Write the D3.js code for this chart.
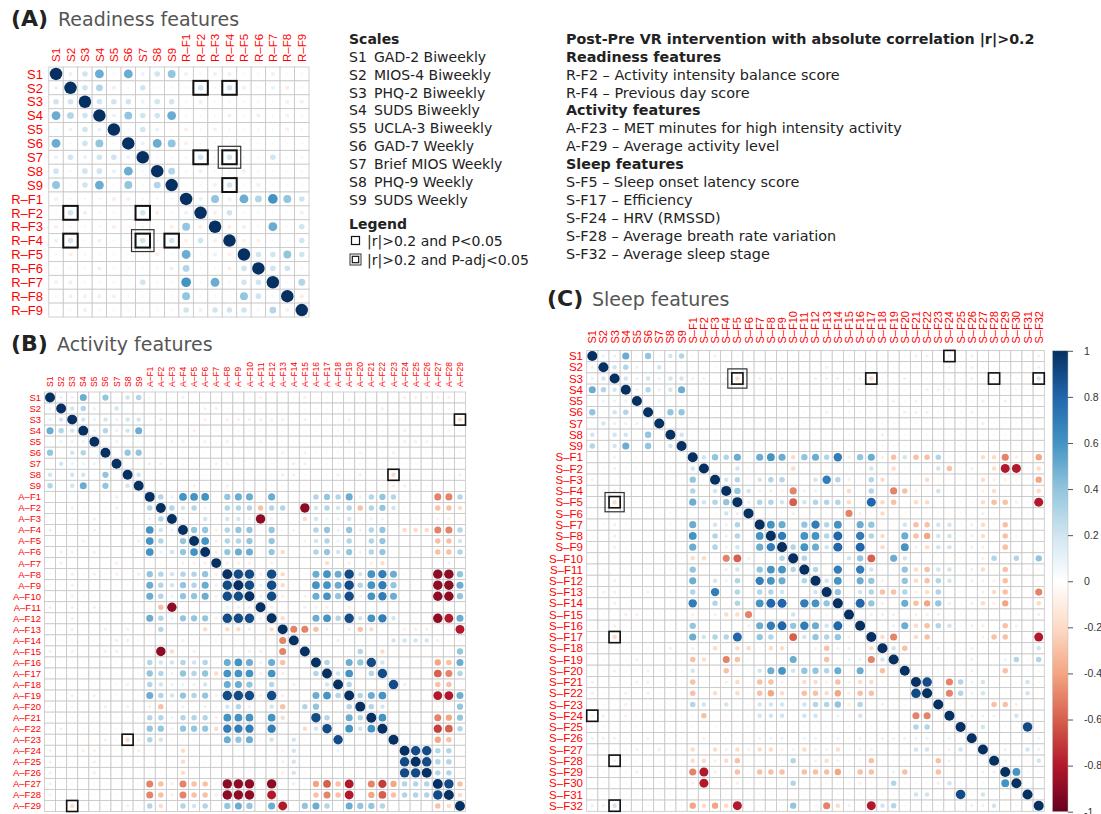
<!DOCTYPE html>
<html>
<head>
<meta charset="utf-8">
<script src="https://cdnjs.cloudflare.com/ajax/libs/d3/7.8.5/d3.min.js"></script>
<style>
  body { margin: 0; background: #fff; }
  svg { display: block; }
  .lbl { font-family: "Liberation Sans", Arial, sans-serif; fill: #ff0000; }
  .txt { font-family: "DejaVu Sans", Verdana, sans-serif; fill: #222; }
</style>
</head>
<body>
<svg id="chart" width="1101" height="814"></svg>
<script>
// corrplot RdBu palette, -1 .. 1
var palette = ["#67001F","#B2182B","#D6604D","#F4A582","#FDDBC7","#FFFFFF","#D1E5F0","#92C5DE","#4393C3","#2166AC","#053061"];
var paletteAt = [-1,-0.8,-0.6,-0.4,-0.2,0,0.2,0.4,0.6,0.8,1];
var barTicks = [1,0.8,0.6,0.4,0.2,0,-0.2,-0.4,-0.6,-0.8,-1];

var scaleLabels = ["S1","S2","S3","S4","S5","S6","S7","S8","S9"];
var readinessLabels = ["R–F1","R–F2","R–F3","R–F4","R–F5","R–F6","R–F7","R–F8","R–F9"];
var activityLabels = ["A–F1","A–F2","A–F3","A–F4","A–F5","A–F6","A–F7","A–F8","A–F9","A–F10",
  "A–F11","A–F12","A–F13","A–F14","A–F15","A–F16","A–F17","A–F18","A–F19","A–F20",
  "A–F21","A–F22","A–F23","A–F24","A–F25","A–F26","A–F27","A–F28","A–F29"];
var sleepLabels = ["S–F1","S–F2","S–F3","S–F4","S–F5","S–F6","S–F7","S–F8","S–F9","S–F10",
  "S–F11","S–F12","S–F13","S–F14","S–F15","S–F16","S–F17","S–F18","S–F19","S–F20",
  "S–F21","S–F22","S–F23","S–F24","S–F25","S–F26","S–F27","S–F28","S–F29","S–F30",
  "S–F31","S–F32"];

// lower triangles, one char per cell:
// "0" none, "." ~+0.05, "," ~-0.05, "1".."9" = +0.1..+0.9, "a".."i" = -0.1..-0.9
var lowerA = [
  "", "1", "22", "532", ".121", "5.24.", "121221", "2.2215.", "4.25,4.3",
  "a.,,aa..,",
  ".21...2a.1",
  "a.,.a,..a4a",
  "12.1..2.2a2a",
  ".a.....a.5.1a",
  "...1....13..a2",
  "a1....2..6.5.22",
  ",aaaa,...4...42.",
  "..a......2a222.3a"
];
var lowerB = [
  "", "1", "12", "532", ".111", "4.23.", ".2111.", "2.22.4.", "3.25.4.2",
  "..000.1..",
  "..1...a.03",
  "....a....13",
  "100.1....621",
  "00.a....a63.4",
  ".aa,a,,,,61246",
  ",a,,,,a,,,,,aaa",
  ",.a.a.a.a432334a",
  ",.a,.....532435a9",
  ",.a..,...531445a99",
  "a.a,a,.,," + ",ci,.,.111",
  "..a......" + "531444a999a",
  "..1..a,a," + ",3,,0b,bba,b",
  "......11." + ",,,a,,,,,," + ",,e",
  "a,a,,a1,," + ",ib,a,,,,a" + "1,e,",
  ",.,.,...." + "322323,565" + "a5c,,",
  "..,..,..," + "431434b666" + "a6a,,3",
  ",,,,,,,a," + "321112,554" + ",3,1,,2",
  ",.a.a...." + "532434a999" + "a9a,,563",
  ",.,.,a,a," + "1c,1,1,231" + ",2c,34,,3",
  ",,.,.,..," + "331333a666" + ",6b,,93,53",
  ".1,.,,,,," + "441444b777" + ",7,,b29,626",
  ".,,,,a,ba" + "32,,.,,545" + ",2,2,,,9,,,,",
  "a,,aa,,,a" + ",.,b..,..." + ",,a2,,,1,,,,,",
  "a,,,a,,,," + ",..b..,,,," + ",,a2,,,,,,,,,9",
  "a,,,a,,,," + ",..b..,,,," + ",,a2,,,,,,,,,99",
  "a,.,,,,,," + "ecaecc.iii" + ",i.1.dfch,egd333",
  "a,.,,,,,," + "ecaecc1iii" + ",h...cech,dfc3339",
  ",,b,,,,1," + "3b,323,454" + ".5h.453,5443,,,,cb"
];
var lowerC = [
  "", "1", "12", "532", ".111", "4.23.", ".2111.", "2.22.4.", "3.25.4.2",
  ",,a,,,,,,",
  ",,a,,,,,," + "2",
  "a,,,,,,,," + "4,",
  ",,a,,,,,," + "3,2",
  ",,b,,,,,," + "5234",
  ",,,,,,,,," + ".,,21",
  ",,a,,,,,," + "5,213,",
  ",,a,,,,,," + "6,313,6",
  ",,a,,,,,," + "5,3a2,57",
  ",,,,,,,,," + "bb,efa,,3",
  ",,,,,,,,," + "4,,12,4663",
  ",,a,,,,,," + "5,213,765,3",
  ",aa,,a,,," + "3,7,3,332,,2",
  ",,a,,,,,," + "7,3,3,688,764",
  ",,,aa,,,," + "a,abbe,,,2,,,,",
  ",,a,,,,,," + "4,,,,a57847528,",
  ",,b,,,,,," + "52338,43,f2434a,",
  ",,,,,,,a," + "a,b,bb,bb,,aca1,b",
  ",,.,1,,,," + "cb,ec,,,,5,,c,11e2",
  ",,a,,a,,," + "2,,c,,25624435,5,c,",
  "1,,,11,,," + "c.,ab,cca,bbacabb,,,",
  "1,,1,1,,," + "c,b,b,cdb,ccbdacc,,,9",
  ",,,a,,,,," + "32,2,,222,2334a3,a,,,,",
  "a1,a,,,,," + ",c,,,,222,22,1,2,,,,ee,",
  ",,,,,,,,," + ",,,,,,,,,,,,,,,,,,,,33,,",
  "111,,1,,," + ",a,,,,111,11,1,1,11111,1,",
  ",,,,1,1,," + "b,bababbaabaab,aa,,,22,a2,",
  ",,1,,,,,," + "bbabc,,,,3,aba,,c,,,,,c1,,,",
  ",,,,1,,,," + "eha,c,ccc,cccd,cc,1c,,c,,,11",
  ",,,,,,,,," + "ah,,a,,,,3,,,,,a,,3,,,a2,,,,6",
  ",,,,,,,,," + ",,,,,,,,,,,,,,,,,,,," + "22,,9,2,,,",
  "112,,,,,," + "dbdbh,,,,4,,eb1,h23,,,,,,112,,,"
];

// significance boxes: [row, col, 1 = P<0.05, 2 = P-adj<0.05]
var boxesA = [["S2","R–F2",1],["S2","R–F4",1],["S7","R–F2",1],["S7","R–F4",2],["S9","R–F4",1]];
var boxesB = [["S3","A–F29",1],["S8","A–F23",1]];
var boxesC = [["S1","S–F24",1],["S3","S–F5",2],["S3","S–F17",1],["S3","S–F28",1],["S3","S–F32",1]];

var scaleNames = ["GAD-2 Biweekly","MIOS-4 Biweekly","PHQ-2 Biweekly","SUDS Biweekly","UCLA-3 Biweekly",
  "GAD-7 Weekly","Brief MIOS Weekly","PHQ-9 Weekly","SUDS Weekly"];
var noteLines = [
  ["Post-Pre VR intervention with absolute correlation |r|>0.2", true],
  ["Readiness features", true],
  ["R-F2 – Activity intensity balance score", false],
  ["R-F4 – Previous day score", false],
  ["Activity features", true],
  ["A-F23 – MET minutes for high intensity activity", false],
  ["A-F29 – Average activity level", false],
  ["Sleep features", true],
  ["S-F5 – Sleep onset latency score", false],
  ["S-F17 – Efficiency", false],
  ["S-F24 – HRV (RMSSD)", false],
  ["S-F28 – Average breath rate variation", false],
  ["S-F32 – Average sleep stage", false]
];

var svg = d3.select("#chart");
var color = d3.scaleLinear().domain(paletteAt).range(palette);

function codeToR(ch) {
  if (ch === ".") return 0.05;
  if (ch === ",") return -0.05;
  if (ch >= "0" && ch <= "9") return +ch / 10;
  return -(ch.charCodeAt(0) - 96) / 10;
}

function drawMatrix(labels, lower, boxes, geo) {
  var n = labels.length;
  var mat = d3.range(n).map(function(i) { return d3.range(n).map(function(j) { return i === j ? 1 : 0; }); });
  lower.forEach(function(row, i) {
    for (var j = 0; j < i; j++) {
      var r = codeToR(row.charAt(j) || "0");
      mat[i][j] = r; mat[j][i] = r;
    }
  });
  var cells = [];
  mat.forEach(function(row, i) { row.forEach(function(r, j) { cells.push({i: i, j: j, r: r}); }); });

  var x = d3.scaleBand().domain(labels).range([geo.x0, geo.x1]);
  var y = d3.scaleBand().domain(labels).range([geo.y0, geo.y1]);
  var bw = x.bandwidth(), bh = y.bandwidth(), s = Math.min(bw, bh);

  var g = svg.append("g");
  g.selectAll("rect.cell").data(cells).enter().append("rect")
    .attr("class", "cell")
    .attr("x", function(d) { return x(labels[d.j]); })
    .attr("y", function(d) { return y(labels[d.i]); })
    .attr("width", bw).attr("height", bh)
    .attr("fill", "#fff").attr("stroke", "#c6c6c6").attr("stroke-width", 0.8);

  g.selectAll("circle").data(cells.filter(function(d) { return d.r !== 0; })).enter().append("circle")
    .attr("cx", function(d) { return x(labels[d.j]) + bw / 2; })
    .attr("cy", function(d) { return y(labels[d.i]) + bh / 2; })
    .attr("r", function(d) { return 0.45 * Math.sqrt(Math.abs(d.r)) * s; })
    .attr("fill", function(d) { return color(d.r); });

  g.selectAll("text.row").data(labels).enter().append("text")
    .attr("class", "lbl row")
    .attr("x", geo.rowX)
    .attr("y", function(d) { return y(d) + bh / 2; })
    .attr("dy", "0.36em").attr("text-anchor", "end")
    .style("font-size", geo.rowFont + "px")
    .text(function(d) { return d; });

  g.selectAll("text.col").data(labels).enter().append("text")
    .attr("class", "lbl col")
    .attr("transform", function(d) { return "translate(" + (x(d) + bw / 2) + "," + geo.colY + ") rotate(-90)"; })
    .attr("dy", "0.36em").attr("text-anchor", "start")
    .style("font-size", geo.colFont + "px")
    .text(function(d) { return d; });

  var allBoxes = [];
  boxes.forEach(function(b) { allBoxes.push(b); allBoxes.push([b[1], b[0], b[2]]); });
  allBoxes.forEach(function(b) {
    var bx = x(b[1]), by = y(b[0]);
    g.append("rect").attr("x", bx).attr("y", by).attr("width", bw).attr("height", bh)
      .attr("fill", "none").attr("stroke", "#111").attr("stroke-width", geo.boxW);
    if (b[2] === 2) {
      g.append("rect").attr("x", bx - 4).attr("y", by - 4).attr("width", bw + 8).attr("height", bh + 8)
        .attr("fill", "none").attr("stroke", "#333").attr("stroke-width", 1.2);
    }
  });
}

function title(tag, name, x, nameX, y) {
  svg.append("text").attr("class", "txt").attr("x", x).attr("y", y)
    .style("font-size", "22px").style("font-weight", "bold").text(tag);
  svg.append("text").attr("class", "txt").attr("x", nameX).attr("y", y)
    .style("font-size", "19px").style("fill", "#555").text(name);
}

drawMatrix(scaleLabels.concat(readinessLabels), lowerA, boxesA,
  {x0: 48.8, x1: 309, y0: 67, y1: 317, rowX: 43, rowFont: 13, colY: 62, colFont: 11.5, boxW: 2});
drawMatrix(scaleLabels.concat(activityLabels), lowerB, boxesB,
  {x0: 44.5, x1: 465.5, y0: 392, y1: 811.5, rowX: 41, rowFont: 9.5, colY: 387, colFont: 8.5, boxW: 1.6});
drawMatrix(scaleLabels.concat(sleepLabels), lowerC, boxesC,
  {x0: 586.7, x1: 1044.3, y0: 350.4, y1: 811.3, rowX: 583, rowFont: 11.5, colY: 343.5, colFont: 11, boxW: 1.6});

title("(A)", "Readiness features", 11, 58, 26);
title("(B)", "Activity features", 11, 57, 351);
title("(C)", "Sleep features", 547, 592, 306);

// colour bar
var barY = d3.scaleLinear().domain([-1, 1]).range([811.7, 350.8]);
var grad = svg.append("defs").append("linearGradient").attr("id", "cbar")
  .attr("x1", 0).attr("y1", 1).attr("x2", 0).attr("y2", 0);
grad.selectAll("stop").data(paletteAt).enter().append("stop")
  .attr("offset", function(d) { return (d + 1) / 2; })
  .attr("stop-color", function(d) { return color(d); });
svg.append("rect").attr("x", 1052.5).attr("y", barY(1)).attr("width", 15.5)
  .attr("height", barY(-1) - barY(1)).attr("fill", "url(#cbar)")
  .attr("stroke", "#bbb").attr("stroke-width", 0.5);
var barAxis = svg.append("g").attr("transform", "translate(1068,0)")
  .call(d3.axisRight(barY).tickValues(barTicks).tickSize(5).tickPadding(11)
    .tickFormat(function(d) { return String(d); }));
barAxis.select(".domain").remove();
barAxis.selectAll("line").attr("stroke", "#555");
barAxis.selectAll("text").attr("font-family", "Liberation Sans, Arial, sans-serif")
  .attr("font-size", "10.5px").attr("fill", "#333");

// scales + legend text
var lineY = function(k) { return 43.8 + 17.92 * k; };
svg.append("text").attr("class", "txt").attr("x", 349).attr("y", lineY(0))
  .style("font-size", "14px").style("font-weight", "bold").text("Scales");
scaleNames.forEach(function(name, i) {
  svg.append("text").attr("class", "txt").attr("x", 349).attr("y", lineY(i + 1))
    .style("font-size", "14px").text(scaleLabels[i]);
  svg.append("text").attr("class", "txt").attr("x", 374).attr("y", lineY(i + 1))
    .style("font-size", "14px").text(name);
});
svg.append("text").attr("class", "txt").attr("x", 349).attr("y", 229)
  .style("font-size", "14px").style("font-weight", "bold").text("Legend");
svg.append("rect").attr("x", 351.5).attr("y", 236.5).attr("width", 8).attr("height", 8)
  .attr("fill", "none").attr("stroke", "#111").attr("stroke-width", 1.2);
svg.append("text").attr("class", "txt").attr("x", 367).attr("y", 245.5)
  .style("font-size", "14px").text("|r|>0.2 and P<0.05");
svg.append("rect").attr("x", 350).attr("y", 254).attr("width", 11).attr("height", 11)
  .attr("fill", "none").attr("stroke", "#333").attr("stroke-width", 1);
svg.append("rect").attr("x", 352.3).attr("y", 256.3).attr("width", 6.4).attr("height", 6.4)
  .attr("fill", "none").attr("stroke", "#111").attr("stroke-width", 1.2);
svg.append("text").attr("class", "txt").attr("x", 367).attr("y", 264.5)
  .style("font-size", "14px").text("|r|>0.2 and P-adj<0.05");

noteLines.forEach(function(l, k) {
  svg.append("text").attr("class", "txt").attr("x", 566).attr("y", lineY(k))
    .style("font-size", l[1] ? "14.3px" : "14.4px")
    .style("font-weight", l[1] ? "bold" : "normal")
    .text(l[0]);
});
</script>
</body>
</html>
